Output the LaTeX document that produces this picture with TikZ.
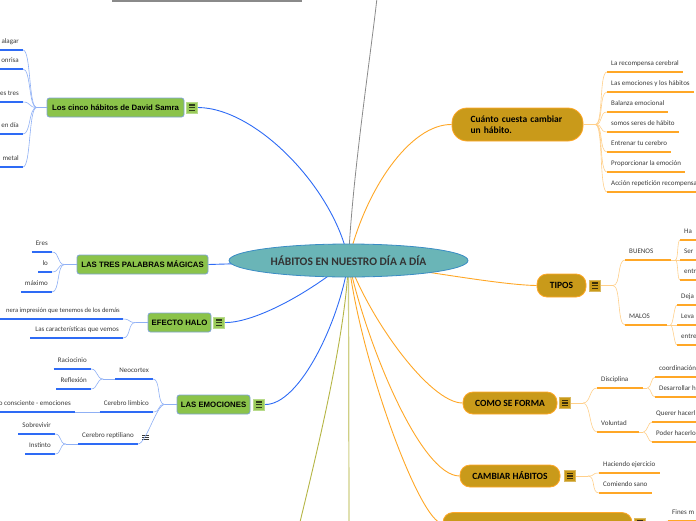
\documentclass[tikz,border=0pt]{standalone}
\usepackage{fontspec}
\setmainfont{Carlito}
\newfontfamily\arial{Liberation Sans}
\usepackage{tikz}
\usetikzlibrary{positioning, shapes.geometric, backgrounds}

\definecolor{turquesa}{HTML}{6AB5B7}
\definecolor{bordeTema}{HTML}{3A8CC4}
\definecolor{verde}{HTML}{8BC34A}
\definecolor{bordeVerde}{HTML}{7FA3D6}
\definecolor{verdeIcono}{HTML}{9ACB5A}
\definecolor{oro}{HTML}{C99A1A}
\definecolor{naranja}{HTML}{FFA726}
\definecolor{naranjaClaro}{HTML}{FFCF8A}
\definecolor{azul}{HTML}{2E6BF5}
\definecolor{azulClaro}{HTML}{8FB0F5}
\definecolor{oliva}{HTML}{B5B545}
\definecolor{olivaClaro}{HTML}{CFCF85}
\definecolor{gris}{HTML}{8A8A8A}
\definecolor{texto}{HTML}{3A3A3A}

\begin{document}
\begin{tikzpicture}[x=1pt, y=-1pt,
    tema/.style={ellipse, draw=bordeTema, fill=turquesa, line width=0.8pt, inner sep=0pt,
        minimum width=239pt, minimum height=33pt, text=black!80,
        font=\bfseries\fontsize{11.5}{13}\selectfont},
    cajaVerde/.style={rectangle, rounded corners=2.5pt, draw=bordeVerde, fill=verde,
        line width=0.8pt, minimum height=19pt, inner xsep=3pt,
        font=\arial\bfseries\fontsize{7.8}{9}\selectfont},
    cajaOro/.style={rectangle, rounded corners=10pt, draw=naranja, fill=oro,
        line width=0.8pt, minimum height=22pt, inner xsep=3pt,
        font=\bfseries\fontsize{9.5}{11}\selectfont},
    hoja/.style={inner xsep=4pt, inner ysep=4.5pt, text height=4.8pt, text depth=1.5pt,
        text=texto, font=\fontsize{7}{8}\selectfont},
    icono/.style={minimum size=11pt, inner sep=0pt, fill=#1, draw=#1!70!white, line width=0.6pt,
        path picture={\foreach \k in {-2.6,0,2.6}
            \draw[#1!30!black, line width=1.2pt]
                ([xshift=2.5pt,yshift=\k pt]path picture bounding box.west) --
                ([xshift=-2.5pt,yshift=\k pt]path picture bounding box.east);}},
    lista/.style={minimum width=7pt, minimum height=7pt, inner sep=0pt,
        path picture={\foreach \k in {-2.2,0,2.2}
            \draw[texto, line width=0.6pt]
                ([yshift=\k pt]path picture bounding box.west) --
                ([yshift=\k pt]path picture bounding box.east);}},
    ramaAzul/.style={draw=azul, line width=0.9pt},
    ramaNaranja/.style={draw=naranja, line width=0.9pt},
    hiloAzul/.style={draw=azulClaro, line width=0.6pt},
    hiloNaranja/.style={draw=naranjaClaro, line width=0.6pt},
    subAzul/.style={draw=azul, line width=1.3pt},
    subNaranja/.style={draw=naranja, line width=1.3pt}]
\useasboundingbox (0,0) rectangle (696,520);

% Tema central
\node[tema] (centro) at (348.5,260.5) {HÁBITOS EN NUESTRO DÍA A DÍA};
\coordinate (arriba) at (377,-2);
\coordinate (abajoA) at (300,522);
\coordinate (abajoB) at (349,522);
\draw[gris, line width=1.5pt] (112,1) -- (302,1);

% Ramas azules (izquierda)
\node[cajaVerde, minimum width=137pt] (cinco) at (115.5,107.5) {Los cinco hábitos de David Samra};
\node[icono=verdeIcono, right=2pt of cinco] (cincoIco) {};
\node[cajaVerde, minimum width=131pt] (tres) at (142.5,264.5) {LAS TRES PALABRAS MÁGICAS};
\node[cajaVerde, minimum width=63pt] (halo) at (179.5,322.5) {EFECTO HALO};
\node[icono=verdeIcono, right=2pt of halo] (haloIco) {};
\node[cajaVerde, minimum width=73pt] (emo) at (213.5,404.5) {LAS EMOCIONES};
\node[icono=verdeIcono, right=3pt of emo] (emoIco) {};

% Los cinco habitos
\coordinate[left=10pt of cinco.west] (jCinco);
\draw[hiloAzul] (cinco.west) -- (jCinco);
\foreach \t/\y [count=\i] in {alagar/50, onrisa/69, es tres/102, en día/134, metal/167} {
    \node[hoja, anchor=south east] (cinco\i) at (23,\y) {\t};
    \draw[subAzul] (cinco\i.south west) -- (cinco\i.south east);
    \draw[hiloAzul] (jCinco) .. controls +(-8,0) and +(8,0) .. (cinco\i.south east);
}

% Las tres palabras
\coordinate[left=12pt of tres.west] (jTres);
\draw[hiloAzul] (tres.west) -- (jTres);
\foreach \t/\y [count=\i] in {Eres/252, lo/272, máximo/292} {
    \node[hoja, anchor=south east] (tres\i) at (52,\y) {\t};
    \draw[subAzul] (tres\i.south west) -- (tres\i.south east);
    \draw[hiloAzul] (jTres) .. controls +(-8,0) and +(8,0) .. (tres\i.south east);
}

% Efecto halo
\coordinate[left=12pt of halo.west] (jHalo);
\draw[hiloAzul] (halo.west) -- (jHalo);
\node[hoja, anchor=south east, inner xsep=3pt, font=\fontsize{6.6}{8}\selectfont] (halo1)
    at (123,319) {nera impresión que tenemos de los demás};
\node[hoja, anchor=south east] (halo2) at (123,338) {Las características que vemos};
\draw[subAzul] (0,319) -- (halo1.south east);
\draw[subAzul] (30,338) -- (halo2.south east);
\foreach \i in {1,2}
    \draw[hiloAzul] (jHalo) .. controls +(-8,0) and +(8,0) .. (halo\i.south east);

% Las emociones
\coordinate[left=12pt of emo.west] (jEmo);
\draw[hiloAzul] (emo.west) -- (jEmo);
\node[hoja, anchor=south east] (neo) at (153,379) {Neocortex};
\node[hoja, anchor=south east] (limbico) at (153,412) {Cerebro límbico};
\node[hoja, anchor=south east] (reptil) at (138,444) {Cerebro reptiliano};
\node[lista] (reptilIco) at (145.5,437) {};
\node[hoja, anchor=south east] (conciencia) at (75,412) {o consciente - emociones};
\foreach \n in {neo, limbico, reptil} {
    \draw[subAzul] (\n.south west) -- (\n.south east);
    \draw[hiloAzul] (jEmo) .. controls +(-8,0) and +(8,0) .. (\n.south east);
}
\draw[subAzul] (conciencia.south west) -- (conciencia.south east);
\draw[hiloAzul] (limbico.south west) -- (conciencia.south east);

\coordinate[left=12pt of neo.south west] (jNeo);
\draw[hiloAzul] (neo.south west) -- (jNeo);
\foreach \t/\y [count=\i] in {Raciocinio/369, Reflexión/389} {
    \node[hoja, anchor=south east] (neo\i) at (91,\y) {\t};
    \draw[subAzul] (neo\i.south west) -- (neo\i.south east);
    \draw[hiloAzul] (jNeo) .. controls +(-7,0) and +(7,0) .. (neo\i.south east);
}
\coordinate[left=12pt of reptil.south west] (jRep);
\draw[hiloAzul] (reptil.south west) -- (jRep);
\foreach \t/\y [count=\i] in {Sobrevivir/434, Instinto/454} {
    \node[hoja, anchor=south east] (rep\i) at (55,\y) {\t};
    \draw[subAzul] (rep\i.south west) -- (rep\i.south east);
    \draw[hiloAzul] (jRep) .. controls +(-7,0) and +(7,0) .. (rep\i.south east);
}

% Ramas naranjas (derecha)
\node[cajaOro, minimum width=131pt, minimum height=33pt, rounded corners=15pt,
    text width=94pt, align=left] (cuanto) at (517.5,124.5) {Cuánto cuesta cambiar\\un hábito.};
\node[cajaOro, minimum width=49pt, minimum height=23pt] (tipos) at (561.5,285.5) {TIPOS};
\node[icono=oro, right=3pt of tipos] (tiposIco) {};
\node[cajaOro, minimum width=94pt] (como) at (510,403) {COMO SE FORMA};
\node[icono=oro, right=2pt of como] (comoIco) {};
\node[cajaOro, minimum width=100pt] (cambiar) at (510,476) {CAMBIAR HÁBITOS};
\node[icono=oro, right=4pt of cambiar] (cambiarIco) {};
\node[cajaOro, minimum width=189pt] (final) at (537.5,523.5) {};
\node[icono=oro, right=2pt of final] (finalIco) {};

% Cuanto cuesta cambiar
\coordinate[right=12pt of cuanto.east] (jCuanto);
\draw[hiloNaranja] (cuanto.east) -- (jCuanto);
\foreach \t [count=\i] in {La recompensa cerebral, Las emociones y los hábitos, Balanza emocional,
        somos seres de hábito, Entrenar tu cerebro, Proporcionar la emoción,
        Acción repetición recompensa} {
    \node[hoja, anchor=south west] (cc\i) at (607,{52+20*\i}) {\t};
    \draw[subNaranja] (cc\i.south west) -- (cc\i.south east);
    \draw[hiloNaranja] (jCuanto) .. controls +(8,0) and +(-8,0) .. (cc\i.south west);
}

% Tipos
\coordinate[right=12pt of tiposIco.east] (jTipos);
\draw[hiloNaranja] (tiposIco.east) -- (jTipos);
\node[hoja, anchor=south west, text width=38pt, align=left] (buenos) at (625,260) {BUENOS};
\node[hoja, anchor=south west, text width=34pt, align=left] (malos) at (625,325) {MALOS};
\foreach \n in {buenos, malos} {
    \draw[subNaranja] (\n.south west) -- (\n.south east);
    \draw[hiloNaranja] (jTipos) .. controls +(8,0) and +(-8,0) .. (\n.south west);
}
\coordinate[right=4pt of buenos.south east] (jBuenos);
\draw[hiloNaranja] (buenos.south east) -- (jBuenos);
\foreach \t/\y [count=\i] in {Ha/240, Ser/260, entr/280} {
    \node[hoja, anchor=south west] (bueno\i) at (680,\y) {\t};
    \draw[subNaranja] (bueno\i.south west) -- (bueno\i.south east);
    \draw[hiloNaranja] (jBuenos) .. controls +(3,0) and +(-3,0) .. (bueno\i.south west);
}
\coordinate[right=3pt of malos.south east] (jMalos);
\draw[hiloNaranja] (malos.south east) -- (jMalos);
\foreach \t/\y [count=\i] in {Deja/305, Leva/325, entre/345} {
    \node[hoja, anchor=south west] (malo\i) at (677,\y) {\t};
    \draw[subNaranja] (malo\i.south west) -- (malo\i.south east);
    \draw[hiloNaranja] (jMalos) .. controls +(3,0) and +(-3,0) .. (malo\i.south west);
}

% Como se forma
\coordinate[right=12pt of comoIco.east] (jComo);
\draw[hiloNaranja] (comoIco.east) -- (jComo);
\node[hoja, anchor=south west, text width=38pt, align=left] (disciplina) at (597,388) {Disciplina};
\node[hoja, anchor=south west, text width=34pt, align=left] (voluntad) at (597,432) {Voluntad};
\foreach \n in {disciplina, voluntad} {
    \draw[subNaranja] (\n.south west) -- (\n.south east);
    \draw[hiloNaranja] (jComo) .. controls +(8,0) and +(-8,0) .. (\n.south west);
}
\coordinate[right=4pt of disciplina.south east] (jDisc);
\draw[hiloNaranja] (disciplina.south east) -- (jDisc);
\foreach \t/\y [count=\i] in {coordinación/377, Desarrollar h/397} {
    \node[hoja, anchor=south west] (disc\i) at (655,\y) {\t};
    \draw[subNaranja] (disc\i.south west) -- (disc\i.south east);
    \draw[hiloNaranja] (jDisc) .. controls +(4,0) and +(-4,0) .. (disc\i.south west);
}
\coordinate[right=4pt of voluntad.south east] (jVol);
\draw[hiloNaranja] (voluntad.south east) -- (jVol);
\foreach \t/\y [count=\i] in {Querer hacerl/422, Poder hacerlo/442} {
    \node[hoja, anchor=south west] (vol\i) at (652,\y) {\t};
    \draw[subNaranja] (vol\i.south west) -- (vol\i.south east);
    \draw[hiloNaranja] (jVol) .. controls +(4,0) and +(-4,0) .. (vol\i.south west);
}

% Cambiar habitos
\coordinate[right=12pt of cambiarIco.east] (jCambiar);
\draw[hiloNaranja] (cambiarIco.east) -- (jCambiar);
\foreach \t/\y [count=\i] in {Haciendo ejercicio/473, Comiendo sano/493} {
    \node[hoja, anchor=south west] (camb\i) at (599,\y) {\t};
    \draw[subNaranja] (camb\i.south west) -- (camb\i.south east);
    \draw[hiloNaranja] (jCambiar) .. controls +(8,0) and +(-8,0) .. (camb\i.south west);
}

% Rama cortada abajo
\coordinate[right=12pt of finalIco.east] (jFinal);
\draw[hiloNaranja] (finalIco.east) -- (jFinal);
\node[hoja, anchor=south west] (fines) at (668,521) {Fines m};
\draw[subNaranja] (fines.south west) -- (fines.south east);
\draw[hiloNaranja] (jFinal) .. controls +(6,0) and +(-6,0) .. (fines.south west);

% Conectores al tema central
\begin{scope}[on background layer]
    \draw[ramaAzul] (cincoIco.east) .. controls (257,108) and (335,190) .. (centro.center);
    \draw[ramaAzul] (tres.east) -- (centro.center);
    \draw[ramaAzul] (haloIco.east) .. controls (250,323) and (300,300) .. (centro.center);
    \draw[ramaAzul] (emoIco.east) .. controls (300,405) and (340,320) .. (centro.center);
    \draw[ramaNaranja] (cuanto.west) .. controls (410,124) and (365,190) .. (centro.center);
    \draw[ramaNaranja] (tipos.west) .. controls (500,285) and (420,270) .. (centro.center);
    \draw[ramaNaranja] (como.west) .. controls (430,403) and (370,320) .. (centro.center);
    \draw[ramaNaranja] (cambiar.west) .. controls (420,476) and (365,340) .. (centro.center);
    \draw[ramaNaranja] (final.west) .. controls (420,523) and (360,360) .. (centro.center);
    \draw[gris, line width=0.8pt] (arriba) .. controls (370,60) and (352,180) .. (centro.center);
    \draw[oliva, line width=0.9pt] (centro.center) .. controls (346,330) and (320,440) .. (abajoA);
    \draw[olivaClaro, line width=1.2pt] (centro.center) -- (abajoB);
\end{scope}
\end{tikzpicture}
\end{document}
